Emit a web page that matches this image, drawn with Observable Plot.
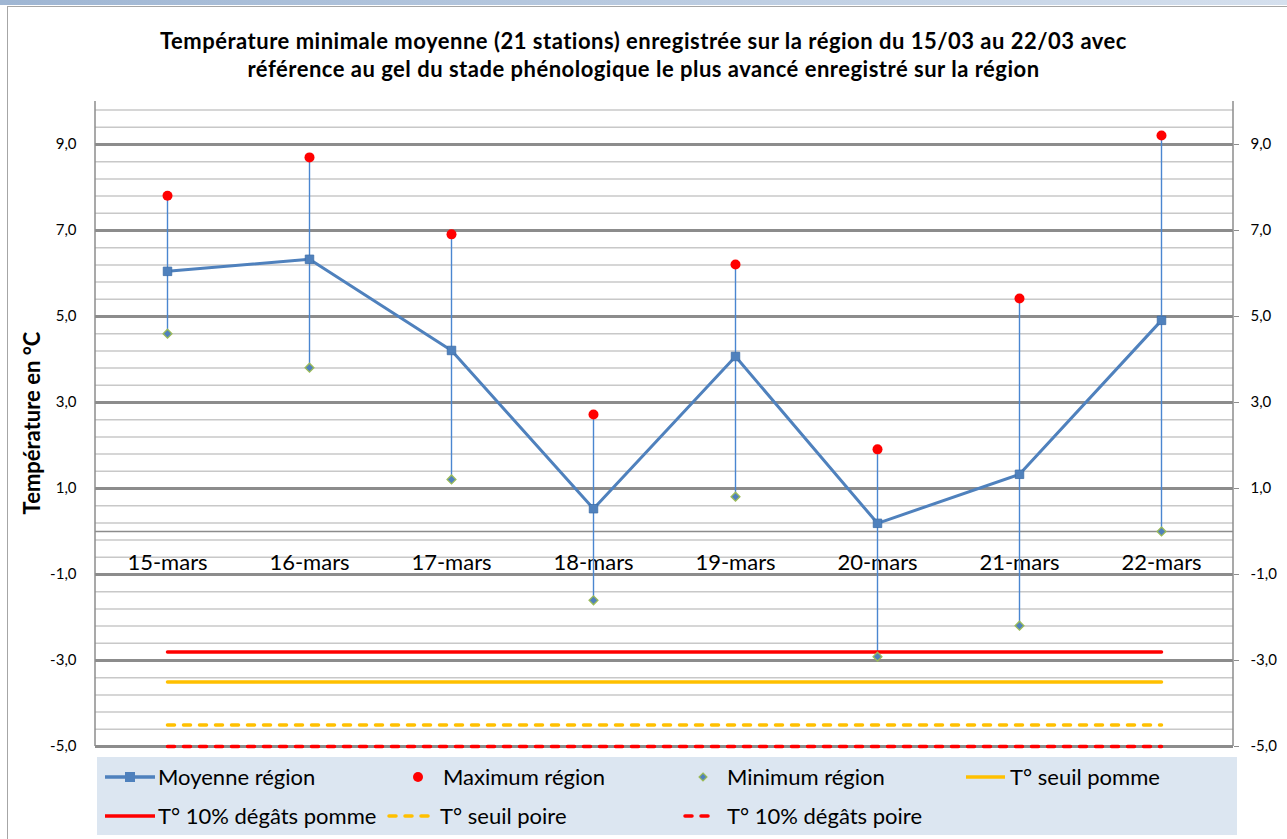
<!DOCTYPE html>
<html><head><meta charset="utf-8">
<script src="https://cdn.jsdelivr.net/npm/d3@7"></script>
<script src="https://cdn.jsdelivr.net/npm/@observablehq/plot@0.6"></script>
<style>
body{margin:0;background:#fff;font-family:Lato,sans-serif;}
#wrap{position:relative;width:1287px;height:839px;overflow:hidden;background:#fff;}
#topstrip{position:absolute;left:0;top:0;width:1287px;height:5px;background:linear-gradient(to right,#9fb6d3,#d5e0ee);}
#frame{position:absolute;left:7px;top:6px;width:1400px;height:1000px;border-left:1.5px solid #a6a6a6;border-top:1.5px solid #a6a6a6;}
#title{position:absolute;left:0;top:27px;width:1287px;text-align:center;font-weight:bold;font-size:22px;letter-spacing:0.5px;line-height:28px;color:#000;}
#chart{position:absolute;left:0;top:90px;}
#ylabel{position:absolute;left:31px;top:423px;transform:translate(-50%,-50%) rotate(-90deg);white-space:nowrap;font-weight:bold;font-size:22px;color:#000;}
#legend{position:absolute;left:0;top:750px;}
</style></head>
<body><div id="wrap">
<div id="topstrip"></div>
<div id="frame"></div>
<div id="title">Température minimale moyenne (21 stations) enregistrée sur la région du 15/03 au 22/03 avec<br>référence au gel du stade phénologique le plus avancé enregistré sur la région</div>
<div id="ylabel">Température en °C</div>
<div id="chart"></div>
<div id="legend"></div>
</div>
<script>
const categories = ["15-mars","16-mars","17-mars","18-mars","19-mars","20-mars","21-mars","22-mars"];
const moyenne = [6.05, 6.33, 4.21, 0.53, 4.07, 0.19, 1.33, 4.91];
const maximum = [7.81, 8.70, 6.91, 2.72, 6.21, 1.91, 5.42, 9.21];
const minimum = [4.60, 3.81, 1.21, -1.60, 0.81, -2.91, -2.19, 0.00];
const seuilPomme = -3.5;
const degatsPomme = -2.8;
const seuilPoire = -4.5;
const degatsPoire = -5.0;
const majorTicks = [-5, -3, -1, 1, 3, 5, 7, 9];
const minorTicks = d3.range(-5, 10.001, 0.4).map(v => +v.toFixed(1));

const data = categories.map((c, i) => ({c, moy: moyenne[i], max: maximum[i], min: minimum[i]}));
const ends = [categories[0], categories[categories.length - 1]];
const thr = (v) => ends.map(c => ({c, v}));
const fmt = d => d.toFixed(1).replace(".", ",");

const blue = "#4f81bd";
const plot = Plot.plot({
  width: 1287, height: 670,
  marginTop: 11, marginBottom: 14, marginLeft: 95, marginRight: 54,
  style: {fontFamily: "Lato, sans-serif", fontSize: "15px", color: "#000", background: "transparent"},
  x: {type: "band", domain: categories, padding: 0, axis: null},
  y: {domain: [-5, 10], axis: null},
  marks: [
    Plot.ruleY(minorTicks, {stroke: "#c8c8c8", strokeWidth: 1.5}),
    Plot.ruleY(majorTicks, {stroke: "#8c8c8c", strokeWidth: 3}),
    Plot.ruleY([0], {stroke: "#8c8c8c", strokeWidth: 1.5}),
    Plot.axisY({anchor: "left", ticks: majorTicks, tickSize: 0, tickPadding: 19, tickFormat: fmt, label: null, fontSize: 15}),
    Plot.axisY({anchor: "right", ticks: majorTicks, tickSize: 5, tickPadding: 12, tickFormat: fmt, label: null, fontSize: 15, stroke: "#8c8c8c"}),
    Plot.text(data, {x: "c", y: () => 0, dy: 31, text: "c", fontSize: 22, fill: "#000"}),
    Plot.ruleX(data, {x: "c", y1: "min", y2: "max", stroke: "#4a86d0", strokeWidth: 1.4}),
    Plot.line(thr(degatsPomme), {x: "c", y: "v", stroke: "#ff0000", strokeWidth: 3.5, strokeLinecap: "round"}),
    Plot.line(thr(seuilPomme), {x: "c", y: "v", stroke: "#ffc000", strokeWidth: 3.5, strokeLinecap: "round"}),
    Plot.line(thr(seuilPoire), {x: "c", y: "v", stroke: "#ffc000", strokeWidth: 3.5, strokeLinecap: "round", strokeDasharray: "7,9"}),
    Plot.line(thr(degatsPoire), {x: "c", y: "v", stroke: "#ff0000", strokeWidth: 3.5, strokeLinecap: "round", strokeDasharray: "7,9"}),
    Plot.line(data, {x: "c", y: "moy", stroke: blue, strokeWidth: 3}),
    Plot.dot(data, {x: "c", y: "moy", symbol: "square", r: 4.8, fill: blue, stroke: "#3f6fa8", strokeWidth: 0.8}),
    Plot.dot(data, {x: "c", y: "max", r: 5, fill: "#ff0000"}),
    Plot.dot(data, {x: "c", y: "min", symbol: "diamond2", r: 4, fill: blue, stroke: "#9bbb59", strokeWidth: 1.3})
  ]
});
document.getElementById("chart").appendChild(plot);
// side axis lines
const svgSel = d3.select(plot);
svgSel.append("line").attr("x1", 95).attr("x2", 95).attr("y1", 11).attr("y2", 656).attr("stroke", "#8c8c8c").attr("stroke-width", 1.5);
svgSel.append("line").attr("x1", 1233).attr("x2", 1233).attr("y1", 11).attr("y2", 656).attr("stroke", "#8c8c8c").attr("stroke-width", 1.5);

// Legend
const lg = d3.select("#legend").append("svg").attr("width", 1287).attr("height", 89)
  .style("font-family", "Lato, sans-serif").style("font-size", "22px");
lg.append("rect").attr("x", 97).attr("y", 7).attr("width", 1140).attr("height", 78).attr("fill", "#dce6f1");
const r1 = 27, r2 = 66;
const txt = (x, y, s) => lg.append("text").attr("x", x).attr("y", y).attr("dy", "0.35em").text(s);
const ln = (x1, x2, y, col, dash) => lg.append("line").attr("x1", x1).attr("x2", x2).attr("y1", y).attr("y2", y)
  .attr("stroke", col).attr("stroke-width", 3.5).attr("stroke-linecap", dash ? "round" : "butt").attr("stroke-dasharray", dash || null);
ln(105, 155, r1, blue);
lg.append("rect").attr("x", 125).attr("y", r1 - 5).attr("width", 10).attr("height", 10).attr("fill", blue);
txt(158, r1, "Moyenne région");
lg.append("circle").attr("cx", 418).attr("cy", r1).attr("r", 5).attr("fill", "#ff0000");
txt(443, r1, "Maximum région");
lg.append("path").attr("d", d3.symbol(d3.symbolDiamond2, 40)()).attr("transform", `translate(703,${r1})`).attr("fill", blue).attr("stroke", "#9bbb59").attr("stroke-width", 1.2);
txt(727, r1, "Minimum région");
ln(966, 1005, r1, "#ffc000");
txt(1010, r1, "T° seuil pomme");
ln(105, 155, r2, "#ff0000");
txt(158, r2, "T° 10% dégâts pomme");
ln(389, 430, r2, "#ffc000", "7,9");
txt(440, r2, "T° seuil poire");
ln(685, 716, r2, "#ff0000", "7,9");
txt(727, r2, "T° 10% dégâts poire");
</script>
</body></html>
